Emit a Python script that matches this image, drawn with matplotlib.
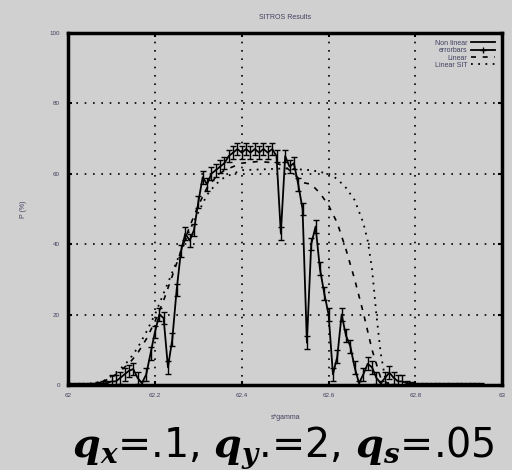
import numpy as np
import matplotlib.pyplot as plt
from matplotlib.lines import Line2D

# SITROS results, P (%) vs s*gamma
plt.rcParams['mathtext.fontset'] = 'custom'
plt.rcParams['mathtext.bf'] = 'DejaVu Serif:italic:bold'
plt.rcParams['mathtext.it'] = 'DejaVu Serif:italic:bold'
plt.rcParams['font.family'] = ['Liberation Sans', 'DejaVu Sans']

# non linear tracking, step 0.01 from 62.00
s_nl = np.round(np.arange(62.0, 62.955, 0.01), 2)
p_nl = [0, 0, 0, 0, 0, 0, 0, 0.3, 0.5, 0.5,
        1, 1, 2, 3, 4, 4.5, 2, 0.5, 3, 9,
        15, 20, 19, 5, 13, 27, 38, 43, 41, 44,
        52, 59, 57, 60, 61, 62, 63, 65, 66, 67,
        66, 67, 66, 67, 66, 67, 66, 67, 65, 43,
        65, 62, 63, 57, 50, 12, 40, 45, 33, 26,
        20, 3, 8, 20, 14, 11, 5, 0.5, 3, 6,
        5, 2, 0.5, 2, 3.5, 2, 1, 1, 0.5, 0.3,
        0, 0, 0, 0, 0, 0, 0, 0, 0, 0,
        0, 0, 0, 0, 0, 0]
err_nl = [0.5 if v < 1 else 1.8 for v in p_nl]

# linear
s_lin = [62.0, 62.04, 62.06, 62.08, 62.10, 62.12, 62.14, 62.16, 62.18, 62.20,
         62.22, 62.24, 62.26, 62.28, 62.30, 62.32, 62.34, 62.36, 62.38, 62.40,
         62.44, 62.48, 62.50, 62.52, 62.54, 62.56, 62.58, 62.60, 62.62, 62.64,
         62.66, 62.68, 62.70, 62.72, 62.74, 63.0]
p_lin = [0, 0, 0.3, 1, 2, 4, 6, 9, 13, 18,
         24, 31, 38, 45, 51, 56, 59, 61, 62, 63,
         63.5, 63, 62, 60, 57.5, 57, 54.5, 51, 46, 38.5,
         30, 20.5, 10, 2, 0, 0]

# linear SIT
s_sit = [62.0, 62.06, 62.08, 62.10, 62.12, 62.14, 62.16, 62.18, 62.20, 62.22,
         62.24, 62.26, 62.28, 62.30, 62.32, 62.34, 62.36, 62.38, 62.40, 62.50,
         62.56, 62.60, 62.62, 62.64, 62.66, 62.68, 62.69, 62.70, 62.71, 62.72,
         62.73, 62.74, 63.0]
p_sit = [0, 0.5, 1, 2.5, 4.5, 7, 10.5, 15, 20, 26,
         32, 38, 44, 49, 54, 57, 59, 60, 61, 61.5,
         61, 60, 58.5, 56, 52.5, 46, 41, 33, 20, 9,
         2, 0, 0]

bg = '#d0d0d0'
fig = plt.figure(figsize=(5.12, 4.7), dpi=100, facecolor=bg)
ax = fig.add_axes([0.133, 0.181, 0.848, 0.749], facecolor=bg)

ax.plot(s_nl, p_nl, color='black', lw=1.3)
ax.errorbar(s_nl, p_nl, yerr=err_nl, fmt='none', ecolor='black', elinewidth=1, capsize=2)
ax.plot(s_lin, p_lin, color='black', lw=1.2, linestyle=(0, (3, 4)))
ax.plot(s_sit, p_sit, color='black', lw=1.3, linestyle=(0, (1, 3)))

ax.set_xlim(62, 63)
ax.set_ylim(0, 100)
ax.set_xticks([62, 62.2, 62.4, 62.6, 62.8, 63])
ax.set_xticklabels(['62', '62.2', '62.4', '62.6', '62.8', '63'])
ax.set_yticks([0, 20, 40, 60, 80, 100])
ax.tick_params(direction='in', length=3, width=1.5, labelsize=4.5, colors='black',
               labelcolor='#404060', top=True, right=True, pad=6)
ax.grid(True, color='black', linestyle=(0, (1, 4)), lw=1.2)
for sp in ax.spines.values():
    sp.set_linewidth(2.5)

ax.set_title('SITROS Results', fontsize=5, color='#404060', pad=10)
ax.set_xlabel('s*gamma', fontsize=5, color='#404060', labelpad=11)
ax.set_ylabel('P (%)', fontsize=5, color='#404060', labelpad=16)

handles = [Line2D([], [], color='black', lw=1.3),
           Line2D([], [], color='black', lw=1.3, marker='+', markersize=5),
           Line2D([], [], color='black', lw=1.2, linestyle=(0, (3, 4))),
           Line2D([], [], color='black', lw=1.3, linestyle=(0, (1, 3)))]
labels = ['Non linear', 'errorbars', 'Linear', 'Linear SIT']
leg = ax.legend(handles, labels, loc='upper right', frameon=False, fontsize=5,
                markerfirst=False, handlelength=3.5, labelspacing=0.05,
                borderaxespad=0.6, handletextpad=0.5)
for t in leg.get_texts():
    t.set_color('#404060')

fig.text(0.553, 0.028,
         r'$\mathbf{q_x}$=.1, $\mathbf{q_y}$.=2, $\mathbf{q_s}$=.05',
         fontsize=28.5, ha='center', va='baseline', color='black',
         family=['DejaVu Sans'])

fig.savefig('out.png', dpi=100, facecolor=bg)
